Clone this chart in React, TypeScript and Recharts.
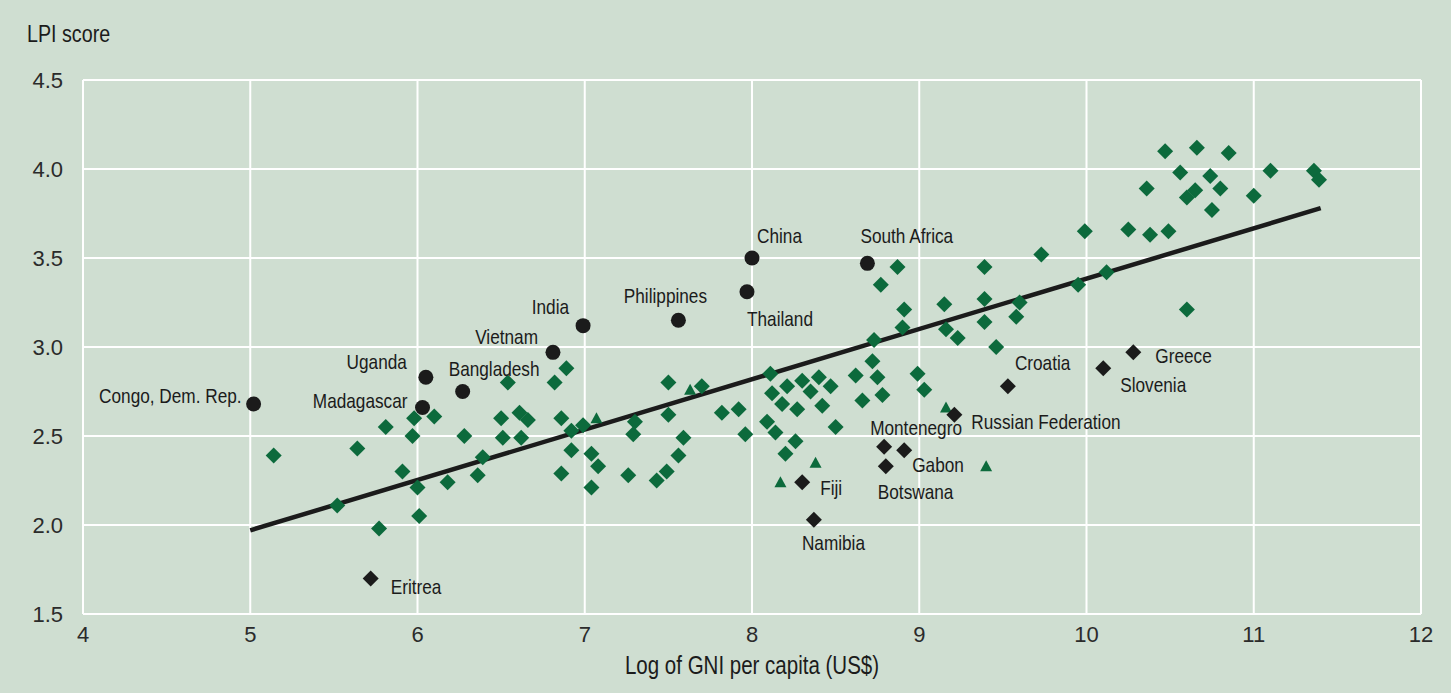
import { ScatterChart, Scatter, XAxis, YAxis, CartesianGrid, ReferenceLine } from "recharts";

// LPI score vs log GNI per capita
const xTicks = [4, 5, 6, 7, 8, 9, 10, 11, 12];
const yTicks = [1.5, 2.0, 2.5, 3.0, 3.5, 4.0, 4.5];

const otherX = [
  5.14, 5.52, 5.64, 5.77, 5.81, 5.91, 5.97, 5.98, 6.0, 6.01, 6.1, 6.18, 6.28, 6.36, 6.39,
  6.5, 6.51, 6.54, 6.61, 6.62, 6.66, 6.82, 6.89, 6.86, 6.92, 6.92, 6.86, 7.04, 7.08, 7.04,
  6.99, 7.26, 7.3, 7.29, 7.43, 7.49, 7.56, 7.59, 7.5, 7.5, 7.7, 7.82, 7.92, 7.96, 8.11,
  8.12, 8.21, 8.18, 8.09, 8.14, 8.27, 8.3, 8.35, 8.4, 8.47, 8.42, 8.26, 8.2, 8.5, 8.62,
  8.72, 8.75, 8.78, 8.66, 8.73, 8.99, 9.03, 9.23, 8.87, 8.77, 8.91, 8.9, 9.15, 9.16, 9.39,
  9.39, 9.39, 9.58, 9.6, 9.46, 9.73, 9.95, 9.99, 10.12, 10.25, 10.38, 10.49, 10.36, 10.47, 10.66,
  10.85, 10.56, 10.74, 10.65, 10.8, 10.6, 10.75, 11.0, 11.1, 11.36, 11.39, 10.6,
];
const otherY = [
  2.39, 2.11, 2.43, 1.98, 2.55, 2.3, 2.5, 2.6, 2.21, 2.05, 2.61, 2.24, 2.5, 2.28, 2.38,
  2.6, 2.49, 2.8, 2.63, 2.49, 2.59, 2.8, 2.88, 2.6, 2.53, 2.42, 2.29, 2.4, 2.33, 2.21,
  2.56, 2.28, 2.58, 2.51, 2.25, 2.3, 2.39, 2.49, 2.8, 2.62, 2.78, 2.63, 2.65, 2.51, 2.85,
  2.74, 2.78, 2.68, 2.58, 2.52, 2.65, 2.81, 2.75, 2.83, 2.78, 2.67, 2.47, 2.4, 2.55, 2.84,
  2.92, 2.83, 2.73, 2.7, 3.04, 2.85, 2.76, 3.05, 3.45, 3.35, 3.21, 3.11, 3.24, 3.1, 3.45,
  3.27, 3.14, 3.17, 3.25, 3.0, 3.52, 3.35, 3.65, 3.42, 3.66, 3.63, 3.65, 3.89, 4.1, 4.12,
  4.09, 3.98, 3.96, 3.88, 3.89, 3.84, 3.77, 3.85, 3.99, 3.99, 3.94, 3.21,
];

const triX = [7.07, 7.63, 8.17, 8.38, 9.16, 9.4];
const triY = [2.6, 2.76, 2.24, 2.35, 2.66, 2.33];

const circleNames = [
  "Congo, Dem. Rep.", "Uganda", "Madagascar", "Bangladesh", "Vietnam",
  "India", "Philippines", "China", "Thailand", "South Africa",
];
const circleX = [5.02, 6.05, 6.03, 6.27, 6.81, 6.99, 7.56, 8.0, 7.97, 8.69];
const circleY = [2.68, 2.83, 2.66, 2.75, 2.97, 3.12, 3.15, 3.5, 3.31, 3.47];

const diamondNames = [
  "Eritrea", "Fiji", "Namibia", "Montenegro", "Gabon", "Botswana",
  "Russian Federation", "Croatia", "Slovenia", "Greece",
];
const diamondX = [5.72, 8.3, 8.37, 8.79, 8.91, 8.8, 9.21, 9.53, 10.1, 10.28];
const diamondY = [1.7, 2.24, 2.03, 2.44, 2.42, 2.33, 2.62, 2.78, 2.88, 2.97];

// fitted line
const fitX = [5.0, 11.4];
const fitY = [1.97, 3.78];

// where each country name sits relative to its marker: [dx, dy, anchor]
const labelPlace: Record<string, [number, number, "start" | "middle" | "end"]> = {
  "Congo, Dem. Rep.": [-12, -8, "end"],
  Uganda: [-19, -15, "end"],
  Madagascar: [-15, -7, "end"],
  Bangladesh: [-14, -23, "start"],
  Vietnam: [-15, -15, "end"],
  India: [-14, -19, "end"],
  Philippines: [-13, -24, "middle"],
  China: [5, -22, "start"],
  Thailand: [0, 27, "start"],
  "South Africa": [-7, -27, "start"],
  Eritrea: [20, 8, "start"],
  Fiji: [18, 6, "start"],
  Namibia: [-12, 23, "start"],
  Montenegro: [-14, -19, "start"],
  Gabon: [8, 15, "start"],
  Botswana: [-8, 26, "start"],
  "Russian Federation": [17, 7, "start"],
  Croatia: [7, -23, "start"],
  Slovenia: [17, 17, "start"],
  Greece: [22, 4, "start"],
};

const BG = "#cfded1";
const GREEN = "#0c6a3c";
const DARK = "#1b1b1b";
const SANS = "'Liberation Sans', Arial, sans-serif";
const SQUEEZE = 0.82; // condensed look for the name labels and titles

const zip = (xs: number[], ys: number[], names?: string[]) =>
  xs.map((x, i) => ({ x, y: ys[i], name: names ? names[i] : "" }));

const others = zip(otherX, otherY);
const triangles = zip(triX, triY);
const circles = zip(circleX, circleY, circleNames);
const diamonds = zip(diamondX, diamondY, diamondNames);

function diamondPath(cx: number, cy: number, r: number) {
  return `M${cx},${cy - r} L${cx + r},${cy} L${cx},${cy + r} L${cx - r},${cy} Z`;
}

function NameLabel({ cx, cy, name }: { cx: number; cy: number; name: string }) {
  const [dx, dy, anchor] = labelPlace[name] ?? [10, 0, "start"];
  return (
    <text
      transform={`translate(${cx + dx},${cy + dy}) scale(${SQUEEZE},1)`}
      textAnchor={anchor}
      dominantBaseline="central"
      fontFamily={SANS}
      fontSize={21}
      fill={DARK}
    >
      {name}
    </text>
  );
}

const GreenDiamond = (p: any) => <path d={diamondPath(p.cx, p.cy, 8)} fill={GREEN} />;

const GreenTriangle = (p: any) => (
  <path d={`M${p.cx},${p.cy - 6} L${p.cx + 6},${p.cy + 5} L${p.cx - 6},${p.cy + 5} Z`} fill={GREEN} />
);

const DarkCircle = (p: any) => (
  <g>
    <circle cx={p.cx} cy={p.cy} r={7.5} fill={DARK} />
    <NameLabel cx={p.cx} cy={p.cy} name={p.payload.name} />
  </g>
);

const DarkDiamond = (p: any) => (
  <g>
    <path d={diamondPath(p.cx, p.cy, 8)} fill={DARK} />
    <NameLabel cx={p.cx} cy={p.cy} name={p.payload.name} />
  </g>
);

const titleStyle = {
  position: "absolute" as const,
  fontFamily: SANS,
  fontSize: 24,
  color: DARK,
  whiteSpace: "nowrap" as const,
  lineHeight: "28px",
};

export default function App() {
  return (
    <div style={{ position: "relative", width: 1451, height: 693, background: BG, fontFamily: SANS }}>
      <style>{`body { margin: 0; }`}</style>
      <div style={{ ...titleStyle, left: 27, top: 20, transformOrigin: "0 0", transform: `scaleX(${SQUEEZE})` }}>
        LPI score
      </div>
      <div style={{ ...titleStyle, left: 752, top: 651, fontSize: 25, transform: `translateX(-50%) scaleX(${SQUEEZE})` }}>
        Log of GNI per capita (US$)
      </div>
      <ScatterChart width={1451} height={693} margin={{ top: 80, right: 30, bottom: 19, left: 0 }}>
        <CartesianGrid stroke="#ffffff" strokeWidth={2} />
        <XAxis
          type="number"
          dataKey="x"
          domain={[4, 12]}
          ticks={xTicks}
          axisLine={false}
          tickLine={false}
          tickSize={0}
          tickMargin={12}
          height={60}
          tick={{ fill: "#2b2b2b", fontSize: 22, fontFamily: SANS }}
        />
        <YAxis
          type="number"
          dataKey="y"
          domain={[1.5, 4.5]}
          ticks={yTicks}
          axisLine={false}
          tickLine={false}
          tickSize={0}
          tickMargin={20}
          width={83}
          tick={{ fill: "#2b2b2b", fontSize: 22, fontFamily: SANS }}
          tickFormatter={(v: number) => v.toFixed(1)}
        />
        <Scatter data={others} shape={GreenDiamond} isAnimationActive={false} />
        <Scatter data={triangles} shape={GreenTriangle} isAnimationActive={false} />
        <ReferenceLine
          segment={[
            { x: fitX[0], y: fitY[0] },
            { x: fitX[1], y: fitY[1] },
          ]}
          stroke={DARK}
          strokeWidth={4.5}
        />
        <Scatter data={circles} shape={DarkCircle} isAnimationActive={false} />
        <Scatter data={diamonds} shape={DarkDiamond} isAnimationActive={false} />
      </ScatterChart>
    </div>
  );
}
